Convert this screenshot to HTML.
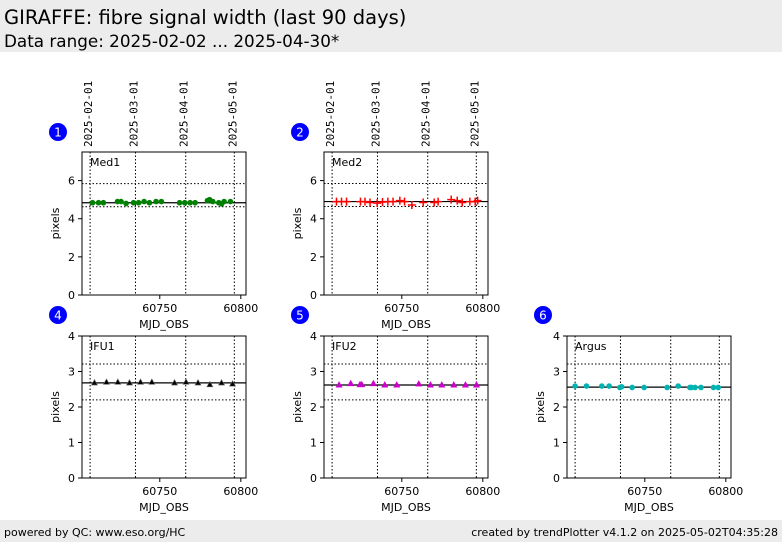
<!DOCTYPE html>
<html><head><meta charset="utf-8"><style>
body{margin:0;width:782px;height:542px;background:#fff;overflow:hidden;font-family:"DejaVu Sans","Liberation Sans",sans-serif}
#hdr{position:absolute;left:0;top:0;width:782px;height:52px;background:#ececec}
#t1{position:absolute;left:4px;top:6px;font-size:19.5px;color:#000}
#t2{position:absolute;left:4px;top:31px;font-size:16.8px;color:#000}
#ftr{position:absolute;left:0;top:520px;width:782px;height:22px;background:#ececec;font-size:11px}
#fl{position:absolute;left:4px;top:6px}#fr{position:absolute;right:4px;top:6px}
svg{position:absolute;left:0;top:0}
</style></head><body>
<div id="hdr"><div id="t1">GIRAFFE: fibre signal width (last 90 days)</div><div id="t2">Data range: 2025-02-02 ... 2025-04-30*</div></div>
<div id="ftr"><span id="fl">powered by QC: www.eso.org/HC</span><span id="fr">created by trendPlotter v4.1.2 on 2025-05-02T04:35:28</span></div>
<svg id="c" width="782" height="542"></svg>
<script>
const dateLabels=["2025-02-01","2025-03-01","2025-04-01","2025-05-01"];
const dateMjd=[60707,60735,60766,60796];
const xTicks=[60750,60800];
const med1X=[60708.5,60712.2,60715.2,60723.9,60726.1,60729.2,60733.8,60736.9,60740.3,60743.6,60747.7,60751,60762.2,60765.4,60768.7,60771.8,60779.4,60780.7,60782.7,60786.4,60788.1,60789.7,60793.6];
const med1Y=[4.84,4.84,4.84,4.9,4.9,4.8,4.84,4.84,4.9,4.84,4.9,4.9,4.84,4.84,4.84,4.84,4.95,5.0,4.9,4.84,4.78,4.9,4.9];
const med2X=[60709.7,60712.8,60715.9,60724.5,60727.3,60730.4,60734.8,60738.1,60741.4,60744.6,60748.8,60751.7,60756.2,60763.2,60770,60772.4,60780.5,60784.2,60787.3,60792,60795.3,60796.8];
const med2Y=[4.9,4.9,4.9,4.9,4.9,4.85,4.82,4.88,4.9,4.9,4.95,4.9,4.72,4.85,4.85,4.9,5.0,4.95,4.85,4.9,4.9,4.95];
const ifu1X=[60709.7,60717.1,60724.1,60731.3,60738.1,60745.1,60759.1,60766.2,60773.6,60780.9,60788.1,60794.9];
const ifu1Y=[2.68,2.7,2.7,2.68,2.7,2.7,2.68,2.7,2.68,2.63,2.68,2.65];
const ifu2X=[60711.3,60718.5,60724.2,60725.3,60732.5,60739.5,60746.9,60760.5,60767.7,60774.7,60782.1,60789.3,60796.1];
const ifu2Y=[2.62,2.66,2.63,2.63,2.66,2.62,2.62,2.65,2.62,2.62,2.62,2.62,2.62];
const argX=[60707,60714,60723.5,60728,60734.6,60735.7,60742.2,60749.6,60763.8,60770.6,60777.8,60778.8,60781,60784.7,60792.4,60795.3];
const argY=[2.59,2.59,2.59,2.59,2.55,2.57,2.55,2.55,2.55,2.59,2.55,2.55,2.55,2.55,2.55,2.55];
const panels=[
 {name:"Med1",num:"1",x0:82,top:152,bot:295,ymax:7.5,yt:[0,2,4,6],xs:med1X,ys:med1Y,med:4.84,hi:5.84,lo:4.63,m:"circle",col:"#008000",dates:true},
 {name:"Med2",num:"2",x0:324,top:152,bot:295,ymax:7.5,yt:[0,2,4,6],xs:med2X,ys:med2Y,med:4.9,hi:5.85,lo:4.64,m:"plus",col:"#ff0000",dates:true},
 {name:"IFU1",num:"4",x0:82,top:336,bot:478,ymax:4,yt:[0,1,2,3,4],xs:ifu1X,ys:ifu1Y,med:2.68,hi:3.21,lo:2.2,m:"tri",col:"#000000",dates:false},
 {name:"IFU2",num:"5",x0:324,top:336,bot:478,ymax:4,yt:[0,1,2,3,4],xs:ifu2X,ys:ifu2Y,med:2.62,hi:3.21,lo:2.2,m:"tri",col:"#cc00cc",dates:false},
 {name:"Argus",num:"6",x0:567,top:336,bot:478,ymax:4,yt:[0,1,2,3,4],xs:argX,ys:argY,med:2.56,hi:3.21,lo:2.2,m:"circle",col:"#00b3b3",dates:false}];
const NS="http://www.w3.org/2000/svg",svg=document.getElementById('c');
function mk(t,a,p){const e=document.createElementNS(NS,t);for(const k in a)e.setAttribute(k,a[k]);(p||svg).appendChild(e);return e;}
const W=164,XMIN=60702,XMAX=60803.2;
panels.forEach(P=>{
 const g=mk('g',{});
 
 
 const sx=v=>P.x0+(v-XMIN)/(XMAX-XMIN)*W, sy=v=>P.bot-v/P.ymax*(P.bot-P.top);
 const x1=P.x0+W;
 dateMjd.forEach((d,i)=>{
  const l=mk('line',{x1:sx(d),x2:sx(d),y1:P.top,y2:P.bot,stroke:'#000','stroke-width':1,'stroke-dasharray':'1.5,2'},g);
  
  if(P.dates){const t=mk('text',{x:0,y:0,transform:`translate(${sx(d)+2},147) rotate(-90)`,'font-size':11,'font-family':'DejaVu Sans Mono, Liberation Mono, monospace'},g);t.textContent=dateLabels[i];
   }
 });
 [P.hi,P.lo].forEach(v=>{const l=mk('line',{x1:P.x0,x2:x1,y1:sy(v),y2:sy(v),stroke:'#000','stroke-width':1,'stroke-dasharray':'1.5,2'},g);
  });
 const md=mk('line',{x1:P.x0,x2:x1,y1:sy(P.med),y2:sy(P.med),stroke:'#000','stroke-width':1.2},g);
 
 P.xs.forEach((v,i)=>{const x=sx(v),y=sy(P.ys[i]);let e;
  if(P.m==='circle')e=mk('circle',{cx:x,cy:y,r:2.8,fill:P.col},g);
  else if(P.m==='plus')e=mk('path',{d:`M${x-4},${y}H${x+4}M${x},${y-4}V${y+4}`,stroke:P.col,'stroke-width':1.5},g);
  else e=mk('path',{d:`M${x},${y-3.2}L${x+3},${y+2.2}L${x-3},${y+2.2}Z`,fill:P.col,stroke:P.col==='#000000'?'#666':P.col,'stroke-width':0.6},g);
  });
 const f=mk('rect',{x:P.x0,y:P.top,width:W,height:P.bot-P.top,fill:'none',stroke:'#000','stroke-width':1},g);
 
 P.yt.forEach(v=>{mk('line',{x1:P.x0-4,x2:P.x0,y1:sy(v),y2:sy(v),stroke:'#000'},g);
  const t=mk('text',{x:P.x0-7,y:sy(v)+4,'text-anchor':'end','font-size':11},g);t.textContent=v;
  });
 xTicks.forEach(v=>{mk('line',{x1:sx(v),x2:sx(v),y1:P.bot,y2:P.bot+4,stroke:'#000'},g);
  const t=mk('text',{x:sx(v),y:P.bot+17,'text-anchor':'middle','font-size':11},g);t.textContent=v;
  });
 const xl=mk('text',{x:P.x0+W/2,y:P.bot+33,'text-anchor':'middle','font-size':11},g);xl.textContent='MJD_OBS';
 
 const yl=mk('text',{x:0,y:0,transform:`translate(${P.x0-23},${(P.top+P.bot)/2}) rotate(-90)`,'text-anchor':'middle','font-size':11},g);yl.textContent='pixels';
 
 const nm=mk('text',{x:P.x0+8,y:P.top+14,'font-size':11},g);nm.textContent=P.name;
 
 const cy=P.dates?132:315;
 const bc=mk('circle',{cx:P.x0-24,cy:cy,r:9,fill:'#0000ff'},g);
 
 const bt=mk('text',{x:P.x0-24,y:cy+4.5,'text-anchor':'middle','font-size':12,fill:'#fff'},g);bt.textContent=P.num;
 
});
</script></body></html>
